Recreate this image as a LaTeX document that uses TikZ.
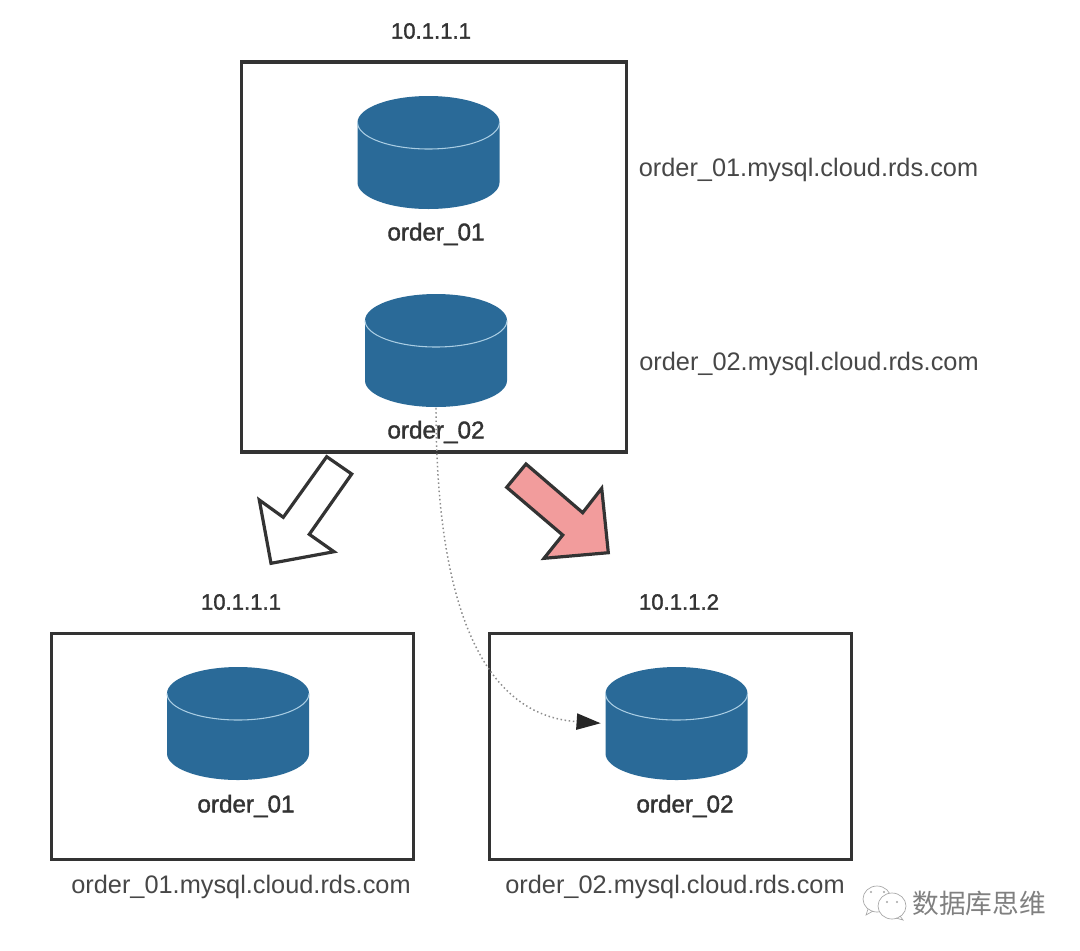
\documentclass[tikz,border=0pt]{standalone}
\usepackage{fontspec}
\setmainfont{Liberation Sans}
\newfontfamily\medfont[FakeBold=1.4]{Liberation Sans}
\newfontfamily\cjkfont{Noto Sans CJK SC}
\usetikzlibrary{arrows.meta}
\definecolor{dbblue}{HTML}{2A6A98}
\definecolor{dbedge}{HTML}{A9CDE3}
\definecolor{ink}{HTML}{333333}
\definecolor{pinkfill}{HTML}{F29C9C}
\tikzset{
  hostbox/.style={draw=ink,line width=2.4pt,line join=miter,fill=white},
  dbcyl/.style={shape=rectangle,inner sep=0pt,minimum width=107.5pt,minimum height=86pt,
    path picture={
      \begin{scope}[shift={(path picture bounding box.center)}]
        \fill[dbblue] (-71,-30) -- (-71,30) arc[start angle=180,end angle=0,x radius=71,y radius=26.5]
          -- (71,-30) arc[start angle=0,end angle=-180,x radius=71,y radius=26.5] -- cycle;
        \draw[dbedge,line width=0.8pt] (-71,-30) arc[start angle=180,end angle=0,x radius=71,y radius=26.5];
      \end{scope}
    }},
  dblabel/.style={font=\medfont\fontsize{18.2}{20}\selectfont,text=ink,inner sep=0pt},
  iplabel/.style={font=\medfont\fontsize{16.6}{20}\selectfont,text=ink,inner sep=0pt},
  urllabel/.style={font=\fontsize{19}{20}\selectfont,text=ink!90,inner sep=0pt},
  blockarrow/.style={draw=ink,line width=2.4pt,line join=miter},
  wmline/.style={draw=black!35,line width=0.5pt},
}
\begin{document}
\begin{tikzpicture}[x=0.75pt,y=-0.75pt]
\useasboundingbox (0,0) rectangle (1080,950);
\fill[white] (0,0) rectangle (1080,950);
% boxes
\node[hostbox,inner sep=0pt,minimum width=289pt,minimum height=292.5pt] (hostA) at (434,257) {};
\node[hostbox,inner sep=0pt,minimum width=271.5pt,minimum height=170pt] (hostB) at (232.5,746.5) {};
\node[hostbox,inner sep=0pt,minimum width=271.5pt,minimum height=170pt] (hostC) at (670.5,746.5) {};
% cylinders
\node[dbcyl] (db1) at (428.5,152.5) {};
\node[dbcyl] (db2) at (436,350.5) {};
\node[dbcyl] (db3) at (238,723.5) {};
\node[dbcyl] (db4) at (676.5,723.5) {};
% labels
\node[iplabel] (ipA) at (431,31) {10.1.1.1};
\node[iplabel] (ipB) at (241,602) {10.1.1.1};
\node[iplabel] (ipC) at (679,602) {10.1.1.2};
\node[dblabel] (n1) at (436,234) {order\_01};
\node[dblabel] (n2) at (436,432) {order\_02};
\node[dblabel] (n3) at (246,806) {order\_01};
\node[dblabel] (n4) at (685,806) {order\_02};
\node[urllabel] (u1) at (808.5,170) {order\_01.mysql.cloud.rds.com};
\node[urllabel] (u2) at (809,364) {order\_02.mysql.cloud.rds.com};
\node[urllabel] (u3) at (241,887) {order\_01.mysql.cloud.rds.com};
\node[urllabel] (u4) at (675,887) {order\_02.mysql.cloud.rds.com};
% block arrows
\draw[blockarrow,fill=white] (326.7,456.7) -- (351.7,474) -- (309.3,534.3) -- (334,551.7) -- (271,563.3) -- (259.3,500) -- (283.3,517.3) -- cycle;
\draw[blockarrow,fill=pinkfill] (526,464) -- (506.7,487.3) -- (562.7,535) -- (544,558.3) -- (608.3,552.7) -- (601.7,488.3) -- (582.7,512.7) -- cycle;
% migration connector
\draw[black!45,line width=1.1pt,dotted,shorten >=3pt,-{Triangle[black!85,length=18pt,width=12.5pt,line width=0pt]}]
  (db2.south) .. controls (436,600) and (480,715) .. (db4.west);
% watermark
\begin{scope}[wmline]
  \draw[fill=white] (877,899) ellipse[x radius=14,y radius=13];
  \draw (868,909) -- (866,915) -- (873,911);
  \draw[fill=white] (892,906) ellipse[x radius=14,y radius=13];
  \draw (900,916) -- (903,920) -- (896,918);
  \fill[black!35] (871,892) circle[radius=1.2] (884,892) circle[radius=1.2] (887,902) circle[radius=1.2] (897,902) circle[radius=1.2];
\end{scope}
\node[font=\cjkfont\fontsize{20}{22}\selectfont,text=black!50,inner sep=0pt] (wm) at (979,903) {数据库思维};
\end{tikzpicture}
\end{document}
